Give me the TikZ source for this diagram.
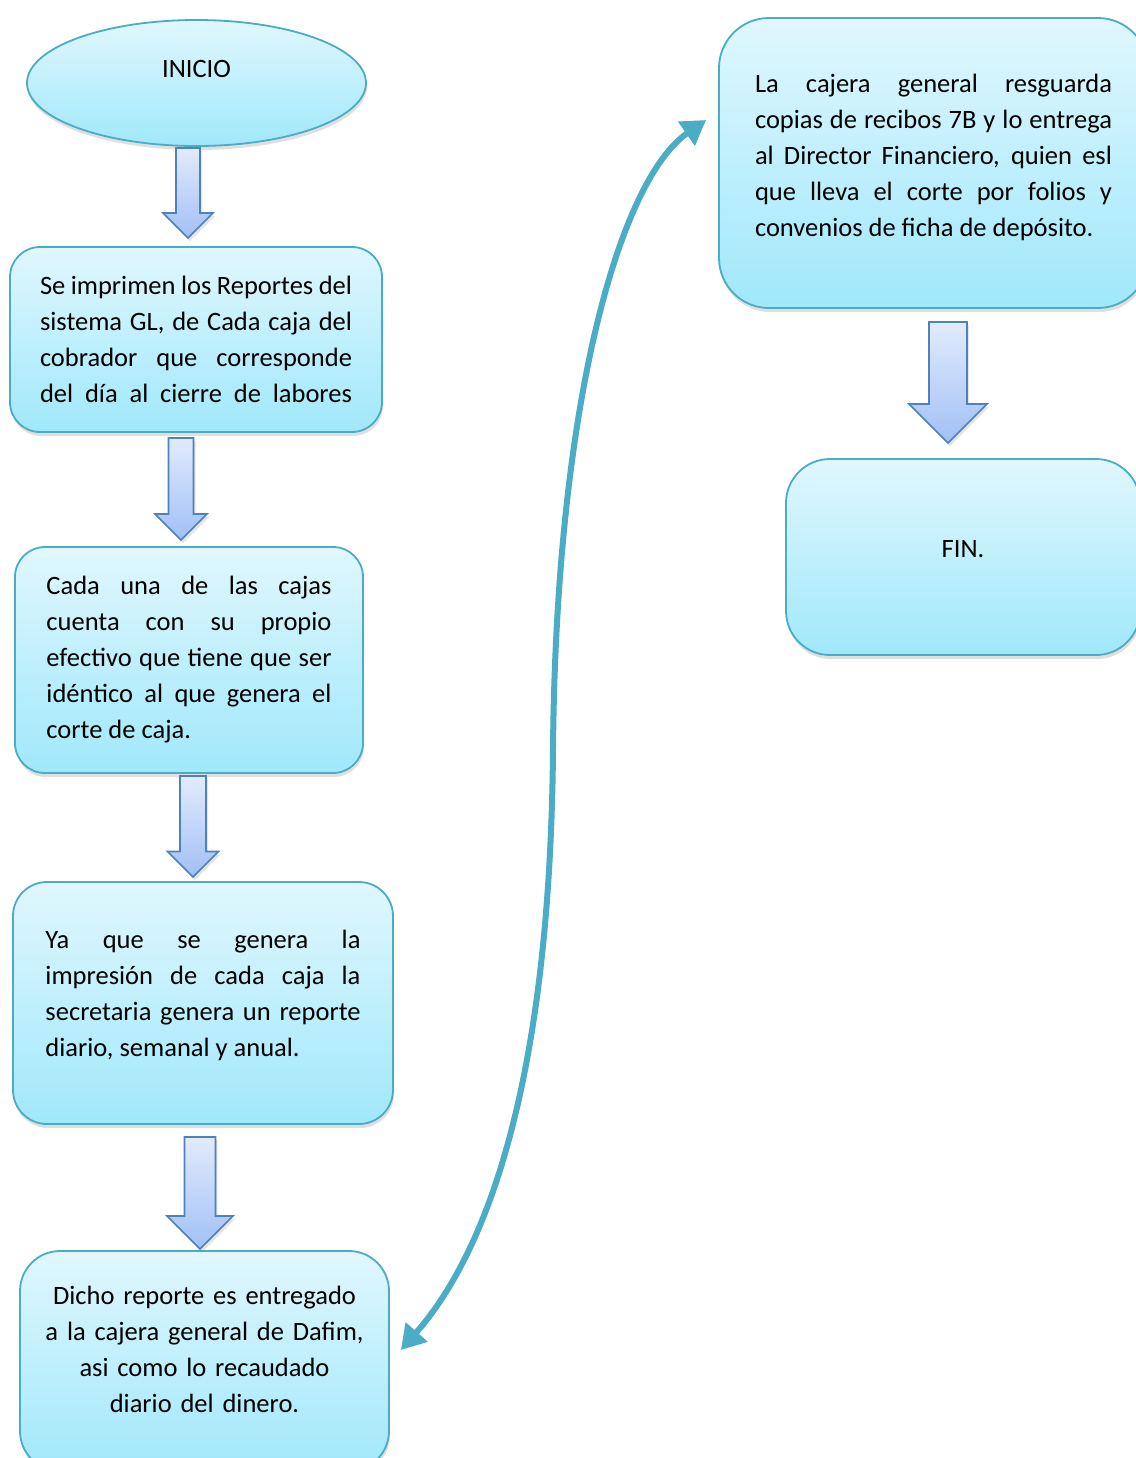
\documentclass[tikz,border=0pt]{standalone}
\usepackage{fontspec}
\setmainfont{Carlito}
\usepackage{tikz}
\usetikzlibrary{shapes.geometric}
\usetikzlibrary{shadows}
\usetikzlibrary{arrows.meta}
\usetikzlibrary{calc}

\definecolor{borde}{RGB}{75,172,198}
\definecolor{cajaarriba}{RGB}{224,247,253}
\definecolor{cajaabajo}{RGB}{160,232,251}
\definecolor{flechaarriba}{RGB}{226,235,252}
\definecolor{flechaabajo}{RGB}{160,192,246}
\definecolor{flechaborde}{RGB}{79,129,189}

% x, y arriba, y punta, medio cuerpo, medio punta
\newcommand{\flecha}[5]{%
  \path[bloque] ({#1-#4},#2) -- ({#1+#4},#2) -- ({#1+#4},{#3-#5}) -- ({#1+#5},{#3-#5})
    -- (#1,#3) -- ({#1-#5},{#3-#5}) -- ({#1-#4},{#3-#5}) -- cycle;}
% espacio bajo el texto
\newcommand{\bajo}[1]{\par\kern#1\hrule height0pt}

\begin{document}
\begin{tikzpicture}[x=0.5pt,y=-0.5pt,
  caja/.style={rectangle,rounded corners=15pt,draw=borde,line width=0.9pt,
    top color=cajaarriba,bottom color=cajaabajo,inner sep=0pt,
    drop shadow={shadow xshift=0.5pt,shadow yshift=-2pt,opacity=0.25},
    font=\fontsize{13.25}{18}\selectfont,
    execute at begin node={\tolerance=9999\hbadness=10000}},
  bloque/.style={draw=flechaborde,line width=0.8pt,top color=flechaarriba,bottom color=flechaabajo,
    drop shadow={shadow xshift=1pt,shadow yshift=-1.5pt,opacity=0.2}},
  curva/.style={draw=borde,line width=3pt,
    {Triangle[length=12pt,width=14pt]}-{Triangle[length=12pt,width=14pt]}}]

  \useasboundingbox (0,0) rectangle (1136,1458);
  \fill[white] (0,0) rectangle (1136,1458);
  \clip (0,0) rectangle (1136,1458);

  \node[caja,ellipse,minimum width=169.5pt,minimum height=63pt] (ini) at (196.5,83)
    {\raisebox{7pt}[\height][\depth]{INICIO}};

  \node[caja,minimum width=186pt,minimum height=92.5pt,text width=156pt,align=justify] (b1) at (196,339.5)
    {Se imprimen los Reportes del\linebreak sistema GL, de Cada caja del\linebreak
     cobrador  que corresponde\linebreak del día al cierre de labores\parfillskip=0pt\par};

  \node[caja,minimum width=174pt,minimum height=113pt,text width=142.5pt,align=justify] (b2) at (189,660)
    {Cada una de las cajas\linebreak cuenta con su propio\linebreak efectivo que tiene que ser\linebreak
     idéntico al que genera el\linebreak corte de caja.};

  \node[caja,rounded corners=17pt,minimum width=190pt,minimum height=121pt,text width=157.5pt,align=justify] (b3) at (203,1003)
    {Ya que se genera la\linebreak impresión de cada caja la\linebreak secretaria genera un reporte\linebreak
     diario, semanal y anual.\bajo{8pt}};

  \node[caja,rounded corners=20pt,minimum width=184.5pt,minimum height=110pt,text width=165pt,align=center] (b4) at (204.5,1361)
    {Dicho reporte es entregado\\ a la cajera general de Dafim,\\ asi como lo  recaudado\\ diario del dinero.\bajo{12pt}};

  \node[caja,rounded corners=25pt,minimum width=214.5pt,minimum height=145pt,text width=178.5pt,align=justify] (b5) at (933.5,163)
    {La cajera general resguarda\linebreak copias de recibos 7B y lo entrega\linebreak al Director Financiero, quien esl\linebreak
     que lleva el corte por folios y\linebreak convenios de ficha de depósito.\bajo{6pt}};

  \node[caja,rounded corners=22pt,minimum width=177pt,minimum height=98pt] (fin) at (963,557)
    {\raisebox{4pt}[\height][\depth]{FIN.}};

  \flecha{188}{148}{238}{12}{25}
  \flecha{181}{438}{540}{12.5}{26}
  \flecha{193}{776}{877}{13}{25.5}
  \flecha{200}{1137}{1249}{15.5}{33}
  \flecha{948}{322}{443}{19}{39}

  \draw[curva] ($(b4.east)+(11,-11)$) .. controls (480,1260) and (550,1100) .. (553,750)
    .. controls (556,400) and (620,180) .. ($(b5.west)+(-12,-43)$);

\end{tikzpicture}
\end{document}
